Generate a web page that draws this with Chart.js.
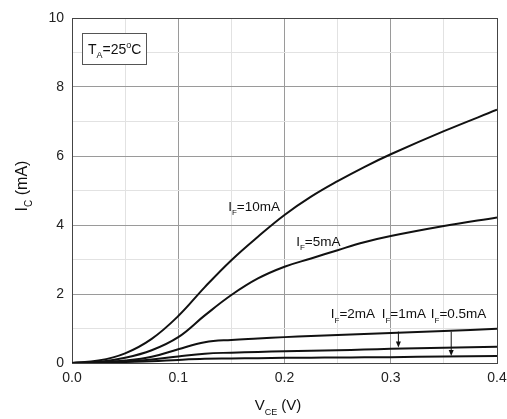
<!DOCTYPE html>
<html>
<head>
<meta charset="utf-8">
<script src="https://cdn.jsdelivr.net/npm/chart.js@4.4.1/dist/chart.umd.min.js"></script>
<style>
  html, body { margin: 0; padding: 0; background: #fff; }
  #wrap { width: 507px; height: 419px; }
</style>
</head>
<body>
<div id="wrap"><canvas id="ic" width="507" height="419"></canvas></div>
<script>
// V_CE (V) sample points
const vce = [0, 0.025, 0.05, 0.075, 0.1, 0.125, 0.15, 0.175, 0.2, 0.225, 0.25, 0.275, 0.3, 0.35, 0.4];

// I_C (mA) per forward current
const if10 = [0, 0.07, 0.28, 0.7, 1.36, 2.2, 2.98, 3.66, 4.29, 4.82, 5.27, 5.68, 6.05, 6.72, 7.34];
const if5 = [0, 0.03, 0.15, 0.37, 0.75, 1.38, 1.97, 2.45, 2.79, 3.03, 3.27, 3.5, 3.68, 3.97, 4.22];
const if2 = [0, 0.02, 0.07, 0.18, 0.4, 0.6, 0.67, 0.71, 0.75, 0.78, 0.81, 0.84, 0.87, 0.93, 0.99];
const if1 = [0, 0.01, 0.04, 0.1, 0.19, 0.27, 0.3, 0.32, 0.34, 0.355, 0.37, 0.39, 0.41, 0.44, 0.47];
const if05 = [0, 0.01, 0.03, 0.05, 0.09, 0.12, 0.13, 0.14, 0.15, 0.155, 0.16, 0.165, 0.17, 0.19, 0.2];

const xTicks = [0, 0.1, 0.2, 0.3, 0.4];
const yTicks = [0, 2, 4, 6, 8, 10];

const FONT = "'Liberation Sans', Arial, sans-serif";

function pts(ys) {
  return vce.map((x, i) => ({ x: x, y: ys[i] }));
}

function line(label, ys) {
  return {
    label: label,
    data: pts(ys),
    borderColor: "#111",
    borderWidth: 2,
    pointRadius: 0,
    fill: false,
    tension: 0.4
  };
}

// draws text made of pieces, some as subscript / superscript
function richText(ctx, x, y, parts, size, align) {
  const small = Math.round(size * 0.62);
  let w = 0;
  parts.forEach(p => {
    ctx.font = (p.sub || p.sup ? small : size) + "px " + FONT;
    w += ctx.measureText(p.t).width;
  });
  let cx = align === "center" ? x - w / 2 : x;
  ctx.textAlign = "left";
  ctx.textBaseline = "alphabetic";
  parts.forEach(p => {
    ctx.font = (p.sub || p.sup ? small : size) + "px " + FONT;
    let dy = 0;
    if (p.sub) dy = size * 0.3;
    if (p.sup) dy = -size * 0.42;
    ctx.fillText(p.t, cx, y + dy);
    cx += ctx.measureText(p.t).width;
  });
  return w;
}

function arrow(ctx, x, y0, y1) {
  ctx.beginPath();
  ctx.moveTo(x, y0);
  ctx.lineTo(x, y1 - 4);
  ctx.stroke();
  ctx.beginPath();
  ctx.moveTo(x, y1);
  ctx.lineTo(x - 2.5, y1 - 6);
  ctx.lineTo(x + 2.5, y1 - 6);
  ctx.closePath();
  ctx.fill();
}

const notes = {
  id: "notes",
  afterDatasetsDraw(chart) {
    const ctx = chart.ctx;
    const xs = chart.scales.x, ys = chart.scales.y;
    const X = v => xs.getPixelForValue(v);
    const Y = v => ys.getPixelForValue(v);
    ctx.save();
    ctx.fillStyle = "#111";
    ctx.strokeStyle = "#111";
    ctx.lineWidth = 1;

    // curve labels
    const lab = t => [{ t: "I" }, { t: "F", sub: true }, { t: t }];
    richText(ctx, X(0.147), Y(4.41), lab("=10mA"), 13.5);
    richText(ctx, X(0.211), Y(3.39), lab("=5mA"), 13.5);
    richText(ctx, X(0.2436), Y(1.29), lab("=2mA"), 13.5);
    richText(ctx, X(0.2915), Y(1.29), lab("=1mA"), 13.5);
    richText(ctx, X(0.3377), Y(1.29), lab("=0.5mA"), 13.5);

    arrow(ctx, X(0.3072), Y(0.91), Y(0.45));
    arrow(ctx, X(0.3569), Y(0.91), Y(0.2));

    // temperature box
    ctx.fillStyle = "#fff";
    ctx.fillRect(82.5, 33.5, 64, 31);
    ctx.strokeStyle = "#555";
    ctx.strokeRect(82.5, 33.5, 64, 31);
    ctx.fillStyle = "#111";
    richText(ctx, 88, 54, [{ t: "T" }, { t: "A", sub: true }, { t: "=25" }, { t: "o", sup: true }, { t: "C" }], 14);

    // axis titles
    richText(ctx, 278, 410, [{ t: "V" }, { t: "CE", sub: true }, { t: " (V)" }], 15, "center");
    ctx.translate(27, 186);
    ctx.rotate(-Math.PI / 2);
    richText(ctx, 0, 0, [{ t: "I" }, { t: "C", sub: true }, { t: " (mA)" }], 16, "center");
    ctx.restore();
  }
};

function gridColor(major, edgeMax) {
  return c => {
    const v = c.tick ? c.tick.value : 0;
    if (Math.abs(v - edgeMax) < 1e-6 || Math.abs(v) < 1e-6) return "#444";
    return major(v) ? "#9a9a9a" : "#e2e2e2";
  };
}

const isMajorX = v => xTicks.some(t => Math.abs(t - v) < 1e-6);
const isMajorY = v => yTicks.some(t => Math.abs(t - v) < 1e-6);

new Chart(document.getElementById("ic"), {
  type: "line",
  data: {
    datasets: [
      line("IF=10mA", if10),
      line("IF=5mA", if5),
      line("IF=2mA", if2),
      line("IF=1mA", if1),
      line("IF=0.5mA", if05)
    ]
  },
  options: {
    responsive: false,
    animation: false,
    devicePixelRatio: 1,
    layout: { padding: { top: 18, right: 0, left: 0, bottom: 0 } },
    plugins: { legend: { display: false }, tooltip: { enabled: false } },
    scales: {
      x: {
        type: "linear",
        min: 0,
        max: 0.4,
        afterFit: s => { s.height = 56; s.paddingLeft = 0; s.paddingRight = 10; },
        ticks: {
          stepSize: 0.05,
          padding: 7,
          color: "#222",
          font: { family: FONT, size: 14 },
          autoSkip: false,
          maxRotation: 0,
          callback: v => isMajorX(v) ? v.toFixed(1) : ""
        },
        grid: { color: gridColor(isMajorX, 0.4), drawTicks: false, lineWidth: 1 },
        border: { color: "#444", width: 1 }
      },
      y: {
        min: 0,
        max: 10,
        afterFit: s => { s.width = 72; s.paddingTop = 0; s.paddingBottom = 0; },
        ticks: {
          stepSize: 1,
          padding: 8,
          color: "#222",
          font: { family: FONT, size: 14 },
          autoSkip: false,
          callback: v => isMajorY(v) ? String(v) : ""
        },
        grid: { color: gridColor(isMajorY, 10), drawTicks: false, lineWidth: 1 },
        border: { color: "#444", width: 1 }
      }
    }
  },
  plugins: [notes]
});
</script>
</body>
</html>
